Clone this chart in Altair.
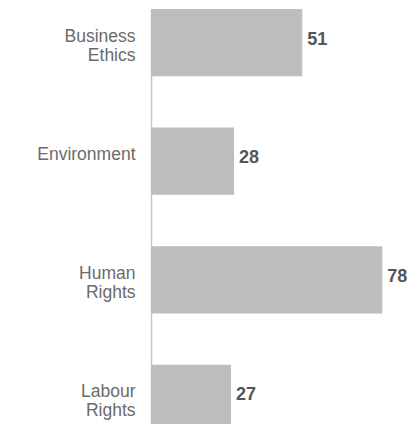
import altair as alt
import pandas as pd

categories = ["Business|Ethics", "Environment|", "Human|Rights", "Labour|Rights"]
values = [51, 28, 78, 27]

df = pd.DataFrame({"category": categories, "value": values})

y_enc = alt.Y(
    "category:N",
    sort=categories,
    scale=alt.Scale(paddingInner=0.434, paddingOuter=0),
    axis=alt.Axis(
        title=None,
        ticks=False,
        labelExpr="split(datum.label, '|')",
        labelFont="Liberation Sans",
        labelFontSize=17.5,
        labelLineHeight=19,
        labelColor="#6b6b6b",
        labelPadding=16,
        labelBaseline="middle",
        labelOffset=-6,
        domainColor="#c8c8c8",
        domainWidth=1.5,
        grid=False,
    ),
)
x_enc = alt.X("value:Q", scale=alt.Scale(domain=[0, 87], nice=False), axis=None)

bars = alt.Chart(df).mark_bar(color="#bdbdbe").encode(y=y_enc, x=x_enc)
labels = alt.Chart(df).mark_text(
    align="left", baseline="middle", dx=5, dy=-3,
    font="Liberation Sans", fontSize=18, fontWeight="bold", color="#555555",
).encode(y=alt.Y("category:N", sort=categories), x="value:Q", text="value:Q")

chart = (
    alt.layer(bars, labels)
    .properties(
        width=258, height=423,
        padding={"left": 143, "top": 1, "right": 0, "bottom": -8},
        autosize="none",
    )
    .configure_view(stroke=None)
)

chart.save("out.html", embed_options={"renderer": "svg", "actions": False})
